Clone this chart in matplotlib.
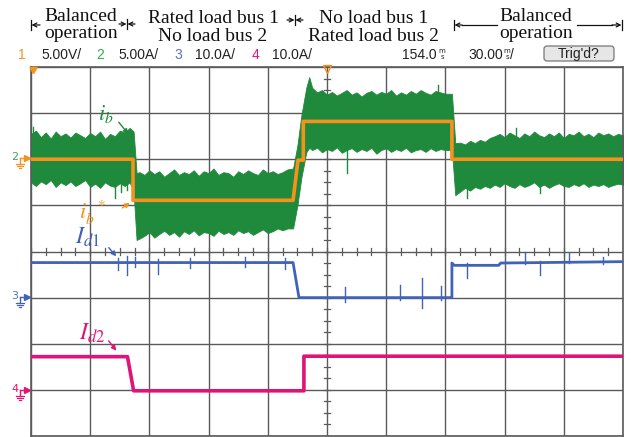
import numpy as np
import matplotlib.pyplot as plt
from matplotlib.patches import FancyBboxPatch

plt.rcParams['mathtext.fontset'] = 'stix'

# scope screen: 10 div x 30 ms, vertical in divisions
t_max = 300.
n_vdiv = 4

# channel 2 (i_b) noise envelope, read every 2.5 ms in the steady parts (div)
p1_hi = [2.55, 2.62, 2.48, 2.58, 2.45, 2.6, 2.5, 2.56, 2.47, 2.58, 2.52, 2.46, 2.57, 2.5,
         2.6, 2.44, 2.55, 2.5, 2.62, 2.58, 2.68]
p1_lo = [1.5, 1.42, 1.52, 1.46, 1.55, 1.4, 1.5, 1.44, 1.52, 1.42, 1.48, 1.55, 1.4, 1.47,
         1.38, 1.5, 1.43, 1.4, 1.48, 1.42, 1.5]
p2_hi = [1.72, 1.66, 1.76, 1.68, 1.74, 1.62, 1.7, 1.78, 1.66, 1.72, 1.68, 1.76, 1.64, 1.74,
         1.7, 1.8, 1.66, 1.72, 1.7, 1.62, 1.74, 1.68, 1.76, 1.7, 1.66, 1.78, 1.7, 1.74, 1.68,
         1.72, 1.78]
p2_lo = [0.28, 0.34, 0.42, 0.3, 0.38, 0.45, 0.36, 0.42, 0.32, 0.44, 0.38, 0.46, 0.35, 0.42,
         0.4, 0.34, 0.45, 0.38, 0.42, 0.36, 0.46, 0.4, 0.44, 0.36, 0.42, 0.48, 0.4, 0.44, 0.5,
         0.46, 0.5]
p3_hi = [3.55, 3.45, 3.5, 3.4, 3.46, 3.38, 3.44, 3.5, 3.4, 3.45, 3.36, 3.44, 3.48, 3.4,
         3.46, 3.42, 3.5, 3.38, 3.45, 3.4, 3.48, 3.42, 3.5, 3.44, 3.4, 3.48, 3.45, 3.42]
p3_lo = [2.2, 2.25, 2.15, 2.22, 2.18, 2.26, 2.14, 2.2, 2.24, 2.16, 2.22, 2.18, 2.25, 2.12,
         2.2, 2.24, 2.16, 2.22, 2.18, 2.25, 2.15, 2.2, 2.22, 2.16, 2.24, 2.18, 2.22, 2.2]
p4_hi = [2.36, 2.32, 2.4, 2.35, 2.42, 2.38, 2.46, 2.5, 2.55, 2.48, 2.58, 2.52, 2.46, 2.56,
         2.5, 2.6, 2.52, 2.48, 2.56, 2.5, 2.58, 2.46, 2.55, 2.52, 2.6, 2.5, 2.55, 2.48, 2.58,
         2.52, 2.56, 2.5, 2.55, 2.52]
p4_lo = [1.3, 1.38, 1.32, 1.4, 1.36, 1.42, 1.38, 1.45, 1.4, 1.48, 1.42, 1.38, 1.46, 1.4,
         1.44, 1.5, 1.4, 1.45, 1.38, 1.44, 1.48, 1.42, 1.4, 1.46, 1.42, 1.48, 1.4, 1.45, 1.42,
         1.46, 1.4, 1.44, 1.47, 1.45]
# transients between the steady parts: (ms, top, bottom)
ib_step1 = [(52.0, 2.6, 1.3), (53.5, 1.7, 0.25)]
ib_step2 = [(132.8, 1.8, 0.5), (135.0, 2.3, 1.0), (137.0, 2.95, 1.6), (139.5, 3.55, 2.15),
            (141.0, 3.78, 2.25)]
ib_step3 = [(213.3, 3.42, 2.2), (215.0, 2.35, 1.22)]
# single spikes on i_b: (ms, top, bottom)
ib_spikes = [(1.0, 2.7, 2.0), (42.6, 2.0, 1.17), (45.5, 2.0, 1.28), (48.6, 2.0, 1.33),
             (160.0, 2.8, 1.7), (206.0, 3.6, 2.8), (221.0, 2.0, 1.17), (246.0, 2.67, 2.0),
             (258.0, 2.0, 1.26)]

# channel 1 (i_b* reference)
ref_t = [0, 51.7, 51.7, 132.8, 135.3, 138.0, 138.0, 213.3, 213.3, 300]
ref_y = [2.0, 2.0, 1.11, 1.11, 1.98, 1.98, 2.82, 2.82, 2.0, 2.0]

# channel 3 (I_d1)
id1_t = [0, 132.8, 135.8, 213.3, 213.3, 214.5, 237, 238, 300]
id1_y = [-0.24, -0.24, -1.0, -1.0, -0.25, -0.3, -0.3, -0.25, -0.22]
id1_spikes = [(44.1, -0.15, -0.41), (48.6, -0.09, -0.52), (52.7, -0.11, -0.33),
              (64.4, -0.17, -0.48), (80.6, -0.15, -0.35), (108.4, -0.13, -0.33),
              (128.7, -0.15, -0.37), (159.1, -0.76, -1.09), (187.0, -0.72, -1.06),
              (198.1, -0.57, -1.22), (207.8, -0.74, -1.05), (221.0, -0.26, -0.57),
              (250.3, 0.0, -0.28), (258.0, -0.2, -0.5), (272.6, -0.04, -0.26),
              (289.9, -0.11, -0.28)]

# channel 4 (I_d2)
id2_t = [0, 48.9, 52.0, 138.3, 138.3, 300]
id2_y = [-2.28, -2.28, -3.02, -3.02, -2.27, -2.27]

green = '#1f8a3c'
orange = '#f5921e'
blue = '#4062b8'
pink = '#e01478'
gridc = '#5a5a5a'

# assemble the i_b envelope
dt = 2.5
segs = [(np.arange(0, 50 + 0.1, dt), p1_hi, p1_lo), ib_step1,
        (np.arange(55, 130 + 0.1, dt), p2_hi, p2_lo), ib_step2,
        (np.arange(142.5, 210 + 0.1, dt), p3_hi, p3_lo), ib_step3,
        (np.arange(217.5, 300 + 0.1, dt), p4_hi, p4_lo)]
ib_t, ib_hi, ib_lo = [], [], []
for s in segs:
    if isinstance(s, tuple):
        ib_t += list(s[0]); ib_hi += s[1]; ib_lo += s[2]
    else:
        for t, h, l in s:
            ib_t.append(t); ib_hi.append(h); ib_lo.append(l)

fig = plt.figure(figsize=(6.32, 4.37), dpi=100)
ax = fig.add_axes([31/632, 1-436/437, 592/632, 369/437])
ax.set_xlim(0, t_max)
ax.set_ylim(-n_vdiv, n_vdiv)
ax.set_xticks(np.arange(0, t_max + 1, 30))
ax.set_yticks(np.arange(-n_vdiv, n_vdiv + 1, 1))
ax.tick_params(length=0, labelbottom=False, labelleft=False)
ax.grid(True, color=gridc, lw=1.0)
ax.set_axisbelow(True)
for s in ax.spines.values():
    s.set_color(gridc)
    s.set_linewidth(1.2)

# minor ticks along the centre lines
for t in np.arange(0, t_max, 7.5):
    ax.plot([t, t], [-0.07, 0.07], color=gridc, lw=0.9, zorder=1)
for v in np.arange(-n_vdiv, n_vdiv, 0.25):
    ax.plot([148.5, 151.5], [v, v], color=gridc, lw=0.9, zorder=1)

ax.fill_between(ib_t, ib_lo, ib_hi, color=green, lw=0.6, edgecolor=green, zorder=2)
for t, top, bot in ib_spikes:
    ax.plot([t, t], [bot, top], color=green, lw=1.0, zorder=2)
ax.plot(ref_t, ref_y, color=orange, lw=2.6, zorder=3)

ax.plot(id1_t, id1_y, color=blue, lw=2.0, zorder=3)
for t, top, bot in id1_spikes:
    ax.plot([t, t], [bot, top], color=blue, lw=1.0, zorder=3)
ax.plot(id2_t, id2_y, color=pink, lw=2.6, zorder=3)

# trace labels
ax.annotate('', xy=(50.2, 2.5), xytext=(43.6, 2.85),
            arrowprops=dict(arrowstyle='-|>', color=green, lw=1.0, mutation_scale=7))
ax.text(38, 2.98, r'$i_b$', color=green, fontsize=16, ha='center', va='center')
ax.annotate('', xy=(51.2, 1.09), xytext=(45.1, 0.91),
            arrowprops=dict(arrowstyle='-|>', color=orange, lw=1.0, mutation_scale=7))
ax.text(31, 0.83, r'$i_b^{\ \ *}$', color=orange, fontsize=16, ha='center', va='center')
ax.annotate('', xy=(44.1, -0.15), xytext=(38.5, 0.13),
            arrowprops=dict(arrowstyle='-|>', color=blue, lw=1.0, mutation_scale=7))
ax.text(28.5, 0.32, r'$I_{d1}$', color=blue, fontsize=17, ha='center', va='center')
ax.annotate('', xy=(44.1, -2.2), xytext=(38.5, -1.89),
            arrowprops=dict(arrowstyle='-|>', color=pink, lw=1.0, mutation_scale=7))
ax.text(31, -1.76, r'$I_{d2}$', color=pink, fontsize=17, ha='center', va='center')

# overlay in pixel units for the header and screen markers
ov = fig.add_axes([0, 0, 1, 1], zorder=5)
ov.set_xlim(0, 632)
ov.set_ylim(437, 0)
ov.axis('off')
ov.patch.set_alpha(0)

serif = dict(family='Liberation Serif', fontsize=14, ha='center', va='baseline', color='#111111')
ov.text(81, 21, 'Balanced', **serif)
ov.text(81, 38, 'operation', **serif)
ov.text(213, 23, 'Rated load bus 1', **serif)
ov.text(213, 41, 'No load bus 2', **serif)
ov.text(374, 23, 'No load bus 1', **serif)
ov.text(374, 41, 'Rated load bus 2', **serif)
ov.text(536, 21, 'Balanced', **serif)
ov.text(536, 38, 'operation', **serif)


def bar(x, y):
    ov.plot([x, x], [y - 5, y + 5], color='#111111', lw=0.9)


def arrow(x0, x1, y):
    ov.annotate('', xy=(x1, y), xytext=(x0, y),
                arrowprops=dict(arrowstyle='->', color='#111111', lw=0.9,
                                mutation_scale=7, shrinkA=0, shrinkB=0))


bar(31, 25)
arrow(40, 31.5, 25)
bar(127, 24)
arrow(119, 126.5, 24)
arrow(135, 127.5, 24)
bar(295, 20)
arrow(287, 294.5, 20)
arrow(303, 295.5, 20)
bar(454, 25)
arrow(462, 454.5, 25)
ov.plot([462, 497], [25, 25], color='#111111', lw=0.9)
ov.plot([577, 612], [25, 25], color='#111111', lw=0.9)
arrow(612, 621.5, 25)
bar(622, 25)

# channel settings row
sans = dict(family=['Liberation Sans', 'DejaVu Sans'], fontsize=10, va='baseline')
ov.text(22, 59, '1', color=orange, ha='center', **sans)
ov.text(41, 59, '5.00V/', color='#222222', ha='left', **sans)
ov.text(100, 59, '2', color='#3aa853', ha='center', **sans)
ov.text(118, 59, '5.00A/', color='#222222', ha='left', **sans)
ov.text(178, 59, '3', color='#5a70c8', ha='center', **sans)
ov.text(195, 59, '10.0A/', color='#222222', ha='left', **sans)
ov.text(255, 59, '4', color=pink, ha='center', **sans)
ov.text(272, 59, '10.0A/', color='#222222', ha='left', **sans)
ov.text(437, 59, '154.0', color='#222222', ha='right', **sans)
ov.text(442, 53, 'm', color='#222222', ha='center', va='baseline', fontsize=5,
        family='DejaVu Sans')
ov.text(442, 59, 's', color='#222222', ha='center', va='baseline', fontsize=5,
        family='DejaVu Sans')
ov.text(503, 59, '30.00', color='#222222', ha='right', **sans)
ov.text(507, 53, 'm', color='#222222', ha='center', va='baseline', fontsize=5,
        family='DejaVu Sans')
ov.text(507, 59, 's', color='#222222', ha='center', va='baseline', fontsize=5,
        family='DejaVu Sans')
ov.text(510, 59, '/', color='#222222', ha='left', **sans)
ov.add_patch(FancyBboxPatch((544, 46), 70, 15, boxstyle='round,pad=0,rounding_size=3',
                            fc='#e6e6e6', ec='#777777', lw=0.9))
ov.text(579, 58, "Trig'd?", color='#222222', ha='center', **sans)

# ground markers on the left edge
def ground(y, num, col, arrow_col):
    ov.text(15, y - 1, num, color=col, ha='center', va='center', fontsize=8,
            family='DejaVu Sans')
    ov.plot([20, 27], [y, y], color=arrow_col, lw=1.0)
    ov.plot([27], [y], marker='>', color=arrow_col, ms=4)
    ov.plot([20, 20], [y, y + 6], color=arrow_col, lw=1.0)
    for i, w in enumerate([4, 2.6, 1.2]):
        ov.plot([20 - w, 20 + w], [y + 6 + 2 * i] * 2, color=arrow_col, lw=0.9)


ground(158, '2', '#3aa853', orange)
ground(297, '3', '#5a70c8', blue)
ground(390, '4', pink, pink)

# trigger / position markers on the top edge
ov.plot([33], [69], marker=(3, 0, 180), color=orange, ms=6)
ov.plot([327], [69], marker='v', mfc='none', mec=orange, ms=6, mew=1.0)

fig.savefig('out.png', dpi=100)
